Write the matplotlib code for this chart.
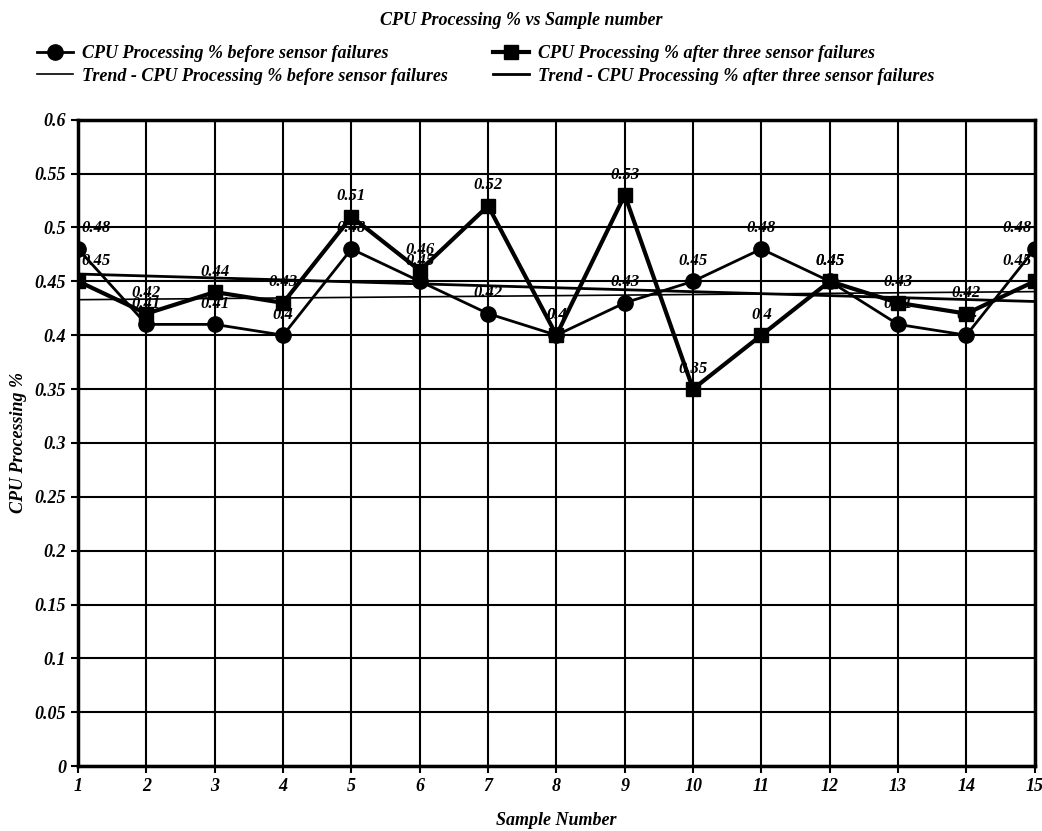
import numpy as np
import matplotlib
matplotlib.use('Agg')
import matplotlib.pyplot as plt

samples = list(range(1, 16))
before = [0.48, 0.41, 0.41, 0.40, 0.48, 0.45, 0.42, 0.40, 0.43, 0.45, 0.48, 0.45, 0.41, 0.40, 0.48]
after = [0.45, 0.42, 0.44, 0.43, 0.51, 0.46, 0.52, 0.40, 0.53, 0.35, 0.40, 0.45, 0.43, 0.42, 0.45]
yticks = [0, 0.05, 0.1, 0.15, 0.2, 0.25, 0.3, 0.35, 0.4, 0.45, 0.5, 0.55, 0.6]

plt.rcParams['font.family'] = ['Liberation Serif', 'DejaVu Serif']
plt.rcParams['font.weight'] = 'bold'
plt.rcParams['font.style'] = 'italic'
plt.rcParams['axes.labelweight'] = 'bold'

fig = plt.figure(figsize=(10.42, 8.31), dpi=100)
ax = fig.add_axes([0.075, 0.078, 0.918, 0.778])

x = np.array(samples)
trend_b = np.polyval(np.polyfit(x, before, 1), x)
trend_a = np.polyval(np.polyfit(x, after, 1), x)

l1, = ax.plot(x, before, color='black', lw=2, marker='o', ms=11, zorder=4)
l2, = ax.plot(x, after, color='black', lw=3, marker='s', ms=10, zorder=4)
t1, = ax.plot(x, trend_b, color='black', lw=1.2, zorder=3)
t2, = ax.plot(x, trend_a, color='black', lw=2, zorder=3)

def label(xs, ys):
    for xi, yi in zip(xs, ys):
        ha = 'center'
        dx = 0
        if xi == 1:
            ha, dx = 'left', 2
        elif xi == 15:
            ha, dx = 'right', -2
        ax.annotate('%g' % yi, (xi, yi), xytext=(dx, 9), textcoords='offset points',
                    ha=ha, va='bottom', fontsize=12, fontweight='bold', style='italic', zorder=5)

label(samples, before)
label(samples, after)

ax.set_xlim(1, 15)
ax.set_ylim(0, 0.6)
ax.set_xticks(samples)
ax.set_yticks(yticks)
ax.set_yticklabels(['%g' % v for v in yticks])
ax.grid(True, color='black', lw=1.5)
for s in ax.spines.values():
    s.set_linewidth(2.5)
ax.tick_params(labelsize=13, width=1.5, length=5)

ax.set_xlabel('Sample Number', fontsize=13, labelpad=12)
ax.set_ylabel('CPU Processing %', fontsize=13, labelpad=6)
fig.suptitle('CPU Processing % vs Sample number', y=0.985, fontsize=13, fontweight='bold')

fig.legend([l1, t1, l2, t2],
           ['CPU Processing % before sensor failures',
            'Trend - CPU Processing % before sensor failures',
            'CPU Processing % after three sensor failures',
            'Trend - CPU Processing % after three sensor failures'],
           ncol=2, loc='upper left', bbox_to_anchor=(0.02, 0.965), frameon=False,
           fontsize=13, handlelength=2, columnspacing=2.5, labelspacing=0.3,
           handletextpad=0.5)

plt.savefig('out.png', dpi=100)
